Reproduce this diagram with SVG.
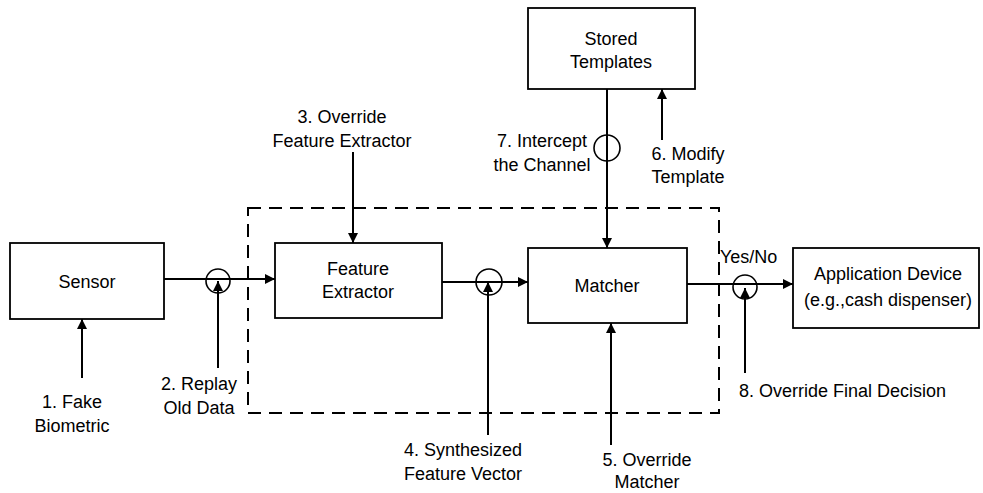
<svg xmlns="http://www.w3.org/2000/svg" width="983" height="493" viewBox="0 0 983 493">
<style>
.box{fill:#fff;stroke:#000;stroke-width:1.8}
.ln{fill:none;stroke:#000;stroke-width:2}
.circ{fill:none;stroke:#000;stroke-width:1.6}
.dash{fill:none;stroke:#000;stroke-width:2;stroke-dasharray:13 8}
text{font-family:"Liberation Sans",Arial,sans-serif;font-size:18px;fill:#000}
.c{text-anchor:middle}
</style>
<defs>
<marker id="ah" viewBox="0 0 10 10" refX="10" refY="5" markerWidth="11" markerHeight="10" markerUnits="userSpaceOnUse" orient="auto">
<path d="M0,0 L10,5 L0,10 Z" fill="#000"/>
</marker>
</defs>
<rect x="0" y="0" width="983" height="493" fill="#fff"/>
<rect class="dash" x="248" y="208" width="471" height="205"/>
<g id="connectors">
<line class="ln" x1="164" y1="279" x2="275" y2="279" marker-end="url(#ah)"/>
<line class="ln" x1="442" y1="282" x2="528" y2="282" marker-end="url(#ah)" stroke-width="2.6"/>
<line class="ln" x1="687" y1="284" x2="793" y2="284" marker-end="url(#ah)"/>
<line class="ln" x1="607" y1="89" x2="607" y2="248" marker-end="url(#ah)"/>
<line class="ln" x1="82" y1="378" x2="82" y2="319" marker-end="url(#ah)"/>
<line class="ln" x1="218" y1="368" x2="218" y2="281" marker-end="url(#ah)"/>
<line class="ln" x1="353" y1="152" x2="353" y2="243" marker-end="url(#ah)"/>
<line class="ln" x1="488" y1="435" x2="488" y2="282" marker-end="url(#ah)"/>
<line class="ln" x1="611" y1="445" x2="611" y2="323" marker-end="url(#ah)"/>
<line class="ln" x1="662" y1="140" x2="662" y2="89" marker-end="url(#ah)"/>
<line class="ln" x1="745" y1="373" x2="745" y2="288" marker-end="url(#ah)"/>
<circle class="circ" cx="218" cy="281" r="12"/>
<circle class="circ" cx="489" cy="282" r="13"/>
<circle class="circ" cx="607" cy="148" r="13"/>
<circle class="circ" cx="745" cy="287" r="12"/>
</g>
<g id="sensor">
<rect class="box" x="10" y="243" width="154" height="76"/>
<text class="c" x="87" y="288">Sensor</text>
</g>
<g id="feature-extractor">
<rect class="box" x="275" y="243" width="167" height="75"/>
<text class="c" x="358" y="275">Feature</text>
<text class="c" x="358" y="298">Extractor</text>
</g>
<g id="matcher">
<rect class="box" x="528" y="248" width="159" height="75"/>
<text class="c" x="607" y="292">Matcher</text>
</g>
<g id="stored-templates">
<rect class="box" x="528" y="8" width="167" height="81"/>
<text class="c" x="611" y="45">Stored</text>
<text class="c" x="611" y="68">Templates</text>
</g>
<g id="application-device">
<rect class="box" x="793" y="248" width="186" height="80"/>
<text class="c" x="888" y="280">Application Device</text>
<text class="c" x="888" y="306">(e.g.,cash dispenser)</text>
</g>
<g id="labels">
<text class="c" x="72" y="408">1. Fake</text>
<text class="c" x="72" y="432">Biometric</text>
<text class="c" x="199" y="390">2. Replay</text>
<text class="c" x="199" y="414">Old Data</text>
<text class="c" x="342" y="123">3. Override</text>
<text class="c" x="342" y="147">Feature Extractor</text>
<text class="c" x="463" y="456">4. Synthesized</text>
<text class="c" x="463" y="480">Feature Vector</text>
<text class="c" x="647" y="466">5. Override</text>
<text class="c" x="647" y="488">Matcher</text>
<text class="c" x="688" y="160">6. Modify</text>
<text class="c" x="688" y="183">Template</text>
<text class="c" x="542" y="147">7. Intercept</text>
<text class="c" x="542" y="171">the Channel</text>
<text x="739" y="397">8. Override Final Decision</text>
<text x="720" y="263">Yes/No</text>
</g>
</svg>
